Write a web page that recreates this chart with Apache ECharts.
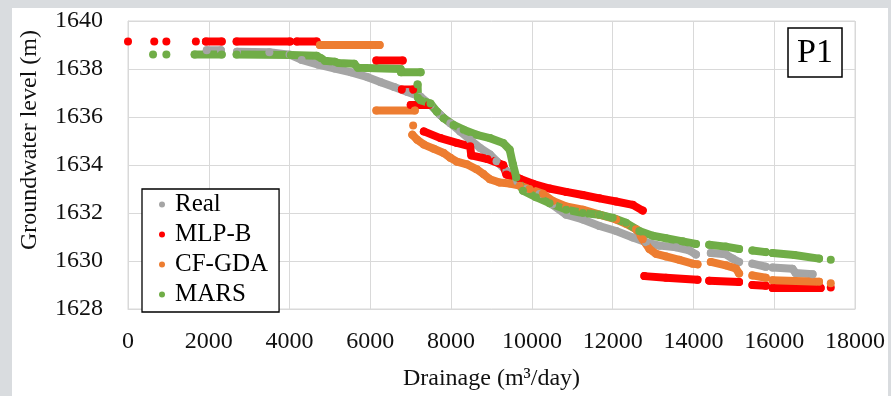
<!DOCTYPE html>
<html>
<head>
<meta charset="utf-8">
<script src="https://cdn.jsdelivr.net/npm/echarts@6/dist/echarts.min.js"></script>
<style>
html,body{margin:0;padding:0;background:#fff;}
#c{width:891px;height:396px;}
</style>
</head>
<body>
<div id="c"></div>
<script>
// ---- data (Drainage m3/day, Groundwater level m), grouped as contiguous runs of dots ----
const seriesNames = ['Real', 'MLP-B', 'CF-GDA', 'MARS'];
const xTicks = [0, 2000, 4000, 6000, 8000, 10000, 12000, 14000, 16000, 18000];
const yTicks = [1628, 1630, 1632, 1634, 1636, 1638, 1640];

const realSegs = [
  [[1950,1638.78],[2300,1638.78]],
  [[2700,1638.72],[3500,1638.7],[4000,1638.6],[4300,1638.38],[4710,1638.18],[5120,1638.02],[5525,1637.86],[5935,1637.66],[6260,1637.45],[6590,1637.25],[6920,1637.04],[7245,1636.84],[7490,1636.5],[7735,1636.08],[7980,1635.74],[8225,1635.4],[8470,1635.05],[8716,1634.71],[8960,1634.44],[9125,1634.16],[9370,1633.75],[9615,1633.34],[9860,1633.0],[10190,1632.79],[10500,1632.35],[10850,1631.93],[11260,1631.73],[11673,1631.46],[12085,1631.25],[12497,1630.98],[12826,1630.78],[13156,1630.64],[13568,1630.57],[13897,1630.44],[14062,1630.27]],
  [[14430,1630.33],[14800,1630.28],[14970,1630.1],[15130,1629.96]],
  [[15460,1629.89],[15790,1629.76]],
  [[15960,1629.73],[16450,1629.68],[16530,1629.5],[16950,1629.45]]
];

const mlpSegs = [
  [[0,1639.15]], [[650,1639.15]], [[950,1639.15]], [[1680,1639.15]],
  [[1930,1639.15],[2320,1639.15]],
  [[2690,1639.15],[4010,1639.15]],
  [[4180,1639.15],[4670,1639.15]],
  [[6150,1638.35],[6800,1638.35]],
  [[6780,1637.15],[7060,1637.15]],
  [[7000,1636.5],[7450,1636.5]],
  [[7325,1635.4],[7734,1635.12],[8143,1634.92],[8470,1634.78],[8500,1634.4],[8900,1634.25],[9290,1634.0],[9370,1633.6],[9700,1633.43],[10025,1633.22],[10437,1633.02],[10850,1632.88],[11260,1632.75],[11673,1632.61],[12085,1632.48],[12497,1632.34],[12744,1632.1]],
  [[12785,1629.37],[13320,1629.3],[14100,1629.22]],
  [[14390,1629.18],[15130,1629.12]],
  [[15460,1629.0],[15790,1628.97]],
  [[15960,1628.87],[17150,1628.87]],
  [[17400,1628.9]]
];

const cfSegs = [
  [[4750,1639.0],[6230,1639.0]],
  [[6150,1636.27],[7100,1636.27]],
  [[7060,1635.65]],
  [[7040,1635.26],[7160,1635.05],[7325,1634.85],[7570,1634.68],[7816,1634.5],[7980,1634.3],[8143,1634.14],[8390,1634.03],[8634,1633.82],[8800,1633.62],[8960,1633.41],[9200,1633.27],[9450,1633.23],[9700,1633.14],[9940,1633.0],[10270,1632.8],[10520,1632.5],[10850,1632.27],[11260,1632.14],[11673,1631.93],[12085,1631.73],[12330,1631.55],[12580,1631.32],[12744,1630.91],[12910,1630.5],[13073,1630.3],[13320,1630.19],[13650,1630.05],[13980,1629.89],[14100,1629.86]],
  [[14430,1629.96],[14800,1629.82],[15050,1629.69],[15130,1629.48]],
  [[15460,1629.4],[15790,1629.3]],
  [[15960,1629.2],[17110,1629.14]],
  [[17400,1629.07]]
];

const marsSegs = [
  [[620,1638.6]], [[950,1638.6]],
  [[1650,1638.6],[2320,1638.6]],
  [[2690,1638.6],[4030,1638.58],[4670,1638.55],[4780,1638.45],[4870,1638.34],[5120,1638.3],[5200,1638.25],[5600,1638.22],[5690,1638.05],[6750,1638.0],[6760,1637.86],[7245,1637.86]],
  [[7170,1637.35],[7180,1636.8],[7245,1636.7],[7490,1636.56],[7650,1636.22],[7816,1635.95],[8060,1635.67],[8310,1635.47],[8634,1635.26],[8960,1635.12],[9290,1634.92],[9450,1634.64],[9530,1634.03],[9615,1633.48],[9780,1632.93],[10100,1632.66],[10437,1632.41],[10850,1632.14],[11260,1632.0],[11673,1631.93],[12000,1631.8],[12330,1631.59],[12660,1631.25],[12990,1631.05],[13320,1630.95],[13733,1630.82],[14062,1630.71]],
  [[14390,1630.68],[14800,1630.6],[15130,1630.5]],
  [[15460,1630.44],[15790,1630.37]],
  [[15960,1630.33],[16500,1630.25],[17110,1630.1]],
  [[17400,1630.05]]
];

const colors = {'Real':'#a5a5a5','MLP-B':'#ff0000','CF-GDA':'#ed7d31','MARS':'#70ad47'};
const FONT = '"Liberation Serif", "Times New Roman", serif';

function build(name, segs) {
  const c = colors[name];
  return segs.map(seg => ({
    type: 'line', name: name, data: seg,
    symbol: 'circle', symbolSize: 8, showSymbol: true,
    lineStyle: {color: c, width: 8, cap: 'round', join: 'round'},
    itemStyle: {color: c},
    emphasis: {disabled: true}, silent: true, animation: false
  }));
}

const series = [].concat(
  build('Real', realSegs),
  build('MLP-B', mlpSegs),
  build('CF-GDA', cfSegs),
  build('MARS', marsSegs)
);

const chart = echarts.init(document.getElementById('c'), null, {renderer: 'canvas'});
chart.setOption({
  animation: false,
  backgroundColor: '#ffffff',
  textStyle: {fontFamily: FONT, color: '#000'},
  grid: {left: 128, right: 36, top: 21, bottom: 84, show: true, borderColor: '#d9d9d9', borderWidth: 1},
  xAxis: {
    type: 'value', min: xTicks[0], max: xTicks[xTicks.length - 1], interval: 2000,
    axisLine: {show: true, lineStyle: {color: '#d9d9d9', width: 1}},
    axisTick: {show: false},
    splitLine: {show: true, lineStyle: {color: '#d9d9d9', width: 1}},
    axisLabel: {fontSize: 24, color: '#111', margin: 21, fontFamily: FONT, formatter: v => String(v)},
    name: 'Drainage (m³/day)', nameLocation: 'middle', nameGap: 58,
    nameTextStyle: {fontSize: 24, color: '#111', fontFamily: FONT}
  },
  yAxis: {
    type: 'value', min: yTicks[0], max: yTicks[yTicks.length - 1], interval: 2,
    axisLine: {show: true, lineStyle: {color: '#d9d9d9', width: 1}},
    axisTick: {show: false},
    splitLine: {show: true, lineStyle: {color: '#d9d9d9', width: 1}},
    axisLabel: {fontSize: 24, color: '#111', margin: 25, fontFamily: FONT, formatter: v => String(v)}
  },
  legend: {
    data: seriesNames.map(n => ({name: n, icon: 'circle', itemStyle: {color: colors[n]}})),
    orient: 'vertical', left: 142, top: 189,
    padding: [3, 11, 5, 17], itemWidth: 16, itemHeight: 6, itemGap: 5,
    backgroundColor: '#fff', borderColor: '#000', borderWidth: 1.3,
    textStyle: {fontSize: 25, lineHeight: 24, color: '#000', fontFamily: FONT},
    selectedMode: false
  },
  graphic: [
    {type: 'rect', shape: {x: 0, y: 0, width: 12, height: 396}, style: {fill: '#d9dcdf'}, z: 100, silent: true},
    {type: 'rect', shape: {x: 0, y: 0, width: 891, height: 8}, style: {fill: '#d9dcdf'}, z: 100, silent: true},
    {type: 'rect', shape: {x: 888, y: 0, width: 3, height: 396}, style: {fill: '#d9dcdf'}, z: 100, silent: true},
    {type: 'text', x: 30, y: 140, rotation: Math.PI / 2,
     style: {text: 'Groundwater level (m)', font: '24px ' + FONT, fill: '#111', textAlign: 'center', textVerticalAlign: 'middle'}, z: 100, silent: true},
    {type: 'rect', shape: {x: 788, y: 28, width: 54, height: 49}, style: {fill: '#fff', stroke: '#000', lineWidth: 1.5}, z: 100, silent: true},
    {type: 'text', x: 815, y: 53,
     style: {text: 'P1', font: '34px ' + FONT, fill: '#000', textAlign: 'center', textVerticalAlign: 'middle'}, z: 101, silent: true}
  ],
  series: series
});
</script>
</body>
</html>
